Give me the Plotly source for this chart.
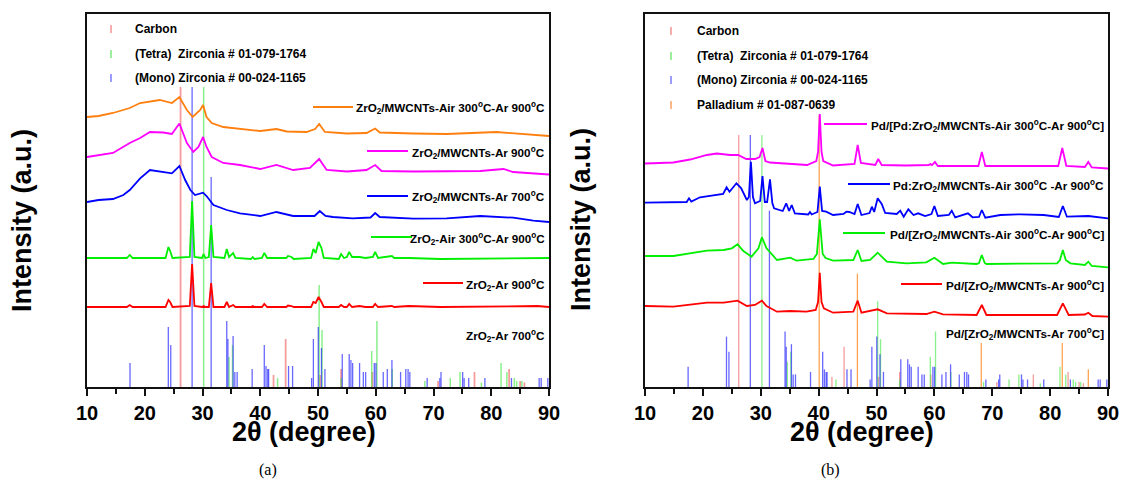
import plotly.graph_objects as go

W, H = 1121, 484

# ---------------- reference stick patterns (2theta, relative intensity) ----------------
CARBON_POS = [26.2, 42.3, 44.4, 50.35, 54.0, 59.4, 70.8, 77.1, 83.1, 85.0, 85.75]
CARBON_REL = [100, 4, 16, 4, 6, 5, 2, 5, 6, 2, 1.5]
TETRA_POS = [30.2, 34.6, 35.2, 43.0, 50.2, 50.7, 54.0, 59.3, 60.2, 62.85, 68.5, 72.9, 74.6, 78.3, 81.7, 82.7, 84.0, 84.4, 85.3]
TETRA_REL = [100, 10, 14, 3, 34, 19, 3, 12, 22, 6, 2, 3, 5, 1.5, 8, 5, 3, 2, 2]
MONO_POS = [17.45, 24.08, 24.5, 28.2, 31.5, 34.2, 34.4, 35.3, 35.6, 36.0, 38.6, 40.7, 41.0, 41.3, 41.45,
            44.9, 45.6, 48.9, 49.2, 50.05, 50.6, 51.2, 54.2, 55.4, 55.7, 56.0, 57.2, 57.85, 58.25, 59.75,
            60.04, 61.3, 62.0, 62.8, 64.3, 65.2, 65.6, 65.9, 68.9, 71.1, 71.3, 75.05, 75.3, 76.1, 78.9,
            83.5, 88.3, 88.65, 89.8]
MONO_REL = [8, 20, 14, 100, 70, 22, 16, 17, 5, 5, 6, 14, 7, 6, 6,
            7, 7, 3, 16, 20, 13, 6, 11, 11, 9, 8, 8, 5, 5, 8,
            8, 5, 6, 9, 5, 6, 6, 5, 3, 3, 5, 5, 3, 3, 3,
            3, 3, 3, 3]
PD_POS = [40.1, 46.7, 68.1, 82.1, 86.6]
PD_REL = [108, 45, 17.5, 17.5, 7]

# ---------------- panel (a) patterns (offset intensity, a.u.) ----------------
A_ORANGE_X = [10, 12, 14.5, 17.4, 19.2, 22.6, 24.7, 26.0, 27.3, 28.3, 29.6, 30.1, 30.7, 31.6, 33.6, 36.5,
              40.0, 42.8, 44.6, 48.0, 49.5, 50.2, 51.2, 55.0, 58.4, 59.9, 60.7, 66.5, 72.3, 80.9, 83.8, 90]
A_ORANGE_Y = [270, 271, 274, 279, 284, 287, 284, 290, 277, 270, 277, 282, 270, 264, 260, 258,
              256, 258, 255.5, 255, 258, 263, 255, 253.5, 254, 258.5, 254.5, 253.5, 253, 255, 253.5, 251]

A_MAGENTA_X = [10, 12, 14.5, 17.4, 19.2, 20.9, 23.2, 24.7, 26.0, 27.3, 28.4, 29.3, 30.1, 30.7, 31.6, 33.6,
               36.5, 40.0, 42.8, 45.7, 48.6, 50.2, 51.5, 55.0, 58.4, 59.9, 61.0, 66.5, 72.3, 78.1, 82.1, 83.8, 90]
A_MAGENTA_Y = [230, 232, 234, 244, 249, 255, 254.5, 253, 263.5, 244, 235, 240, 250, 240, 230, 224,
               222, 218, 222, 217, 219, 228, 217, 215.5, 217, 222, 216, 215.5, 215.5, 216, 218, 215, 212.5]

A_BLUE_X = [10, 12, 14.5, 16.3, 17.4, 18.3, 19.2, 20.9, 23.2, 24.7, 26.0, 27.0, 27.9, 28.7, 30.1, 30.7,
            31.9, 34.2, 36.5, 40.0, 42.8, 45.7, 49.4, 50.3, 51.3, 52.6, 56.0, 59.1, 59.9, 60.7, 66.5,
            72.3, 78.1, 83.8, 87.3, 90]
A_BLUE_Y = [185, 187, 188, 192, 197, 203, 208.7, 217, 215.3, 213.7, 221, 207, 197, 192, 194.3, 191,
            182, 177, 173.7, 171, 175, 171, 171, 176, 171, 170, 168.7, 169.5, 174, 170, 168.3,
            168.7, 171, 169.3, 166.3, 165]

A_ZRO2_X = [10, 16.9, 17.4, 17.9, 23.6, 24.1, 24.4, 24.8, 27.8, 28.2, 28.6, 29.9, 30.2, 30.5, 31.1, 31.5,
            31.9, 33.8, 34.2, 34.6, 35.3, 35.7, 38.4, 38.7, 39.0, 40.3, 40.7, 41.2, 44.5, 44.8, 45.4, 45.8,
            48.8, 49.2, 49.6, 50.1, 50.6, 51.0, 53.6, 54.0, 54.5, 55.0, 55.4, 55.9, 57.2, 58.2, 59.5, 59.9,
            60.4, 62.8, 63.2, 65.7, 71.2, 88, 90]
A_GREEN_Y = [129, 129, 132, 129, 129, 140, 136, 129, 130, 186, 130, 129, 133, 129, 130, 162,
             130, 129, 138, 130, 134, 129, 128, 130, 128, 129, 134, 129, 129, 131, 130, 128,
             129, 138, 134, 145, 139, 129, 128, 133, 129, 130, 135, 130, 130, 129, 130, 135,
             129, 131, 129, 129, 128, 129, 129]
A_RED_Y = [80, 80, 82, 80, 80, 87, 85, 80, 81, 123, 81, 80, 81, 80, 80, 104,
           80, 80, 85, 80, 82, 80, 80, 81, 80, 80, 83, 80, 80, 81.5, 81, 80,
           80, 85, 84, 90, 85, 80, 80, 82, 80, 80, 83, 80, 81, 80, 80, 83,
           80, 81, 80, 81, 80, 81, 80]

# ---------------- panel (b) patterns ----------------
B_MAGENTA_X = [10, 14.9, 17.8, 20.7, 22.4, 24.7, 26.1, 27.5, 29.0, 29.8, 30.3, 30.8, 31.6, 35, 38.0, 39.6,
               39.9, 40.2, 40.5, 40.8, 42.5, 46.2, 46.75, 47.3, 49.8, 50.3, 50.9, 55, 59.0, 59.3, 59.6,
               60.1, 60.6, 67.6, 68.2, 68.8, 75, 81.4, 82.1, 82.8, 86.0, 86.6, 87.2, 90]
B_MAGENTA_Y = [223.5, 224.5, 227.5, 232, 233.5, 232, 232, 228, 228, 230, 239, 226, 224.5, 223, 222, 226,
               235, 273, 235, 226, 221.5, 223, 242, 224, 222, 228, 222, 221.5, 222, 223, 222,
               225, 221, 221, 235, 221, 221, 221, 239, 221, 220, 225, 219.5, 218.5]

B_BLUE_X = [10, 14, 17.2, 17.6, 18.0, 19.5, 21.5, 23.5, 24.1, 24.6, 25.8, 26.6, 27.6, 27.95, 28.3, 28.65,
            29.0, 29.9, 30.3, 30.7, 31.1, 31.6, 32.0, 32.3, 33.8, 34.4, 34.9, 35.35, 35.9, 38.2, 38.5,
            38.8, 39.8, 40.2, 40.6, 41.3, 42.5, 44.3, 44.8, 45.3, 46.2, 46.75, 47.4, 48.8, 49.2, 49.6,
            50.2, 50.9, 51.5, 53.5, 54.1, 54.7, 55.5, 56.4, 57.2, 58.4, 59.5, 60.0, 60.6, 62.5, 63.0,
            63.6, 65.8, 66.6, 67.7, 68.2, 68.8, 71.4, 74.9, 78.9, 81.5, 82.2, 82.9, 86.6, 90]
B_BLUE_Y = [184.3, 184.3, 185, 188.7, 185.5, 189.7, 191, 193, 199.7, 195.3, 203.7, 199, 187, 190, 225.3, 190,
            183.7, 186, 211, 185, 185, 207.7, 184, 178.7, 176, 183.7, 176, 182, 173.5, 172.5, 175,
            172.5, 175, 200.3, 176, 175.3, 172, 173, 175.3, 175, 173, 183, 172, 174, 180.3, 175,
            188.7, 183, 174, 173, 176.3, 170.3, 177.7, 172, 173.7, 171, 173, 181, 171, 172, 176.3,
            169.7, 173.7, 169.7, 170, 177, 169.3, 172, 172.7, 172, 170, 181, 170.3, 171, 168.7]

B_GREEN_X = [10, 14.9, 20.7, 23.6, 25.0, 26.0, 27.0, 28.4, 29.6, 30.2, 31.0, 32.8, 35.1, 36.2, 39.1, 39.7,
             40.2, 40.7, 41.2, 42.5, 46.0, 46.75, 47.4, 48.9, 50.2, 51.8, 55.2, 58.6, 60.0, 61.5, 63.0,
             67.3, 67.7, 68.2, 68.7, 69.0, 81.2, 81.7, 82.2, 82.7, 83.5, 86.0, 86.6, 87.2, 90]
B_GREEN_Y = [131, 131, 136.3, 137, 138.7, 142.7, 136, 130.3, 138.7, 149.7, 138.7, 127, 129.3, 126.3, 128, 133,
             167.7, 133, 129, 126.3, 127, 137, 126, 127, 134.3, 125.3, 123.7, 124.7, 129.3, 123, 124.3,
             123, 124, 132, 124, 123, 123.7, 127, 137, 127, 123.7, 122, 125.3, 121, 119.7]

B_RED_X = [10, 14.9, 20.7, 23.6, 26.0, 27.6, 29.0, 30.2, 31.0, 32.8, 35.1, 37.9, 39.5, 39.9, 40.2, 40.5,
           40.9, 42.5, 46.0, 46.75, 47.4, 50.2, 51.8, 58.6, 60.0, 61.5, 67.3, 68.2, 69.0, 81.2, 82.2,
           83.2, 86.0, 86.6, 87.3, 90]
B_RED_Y = [81, 80.3, 84.3, 84.3, 86.3, 81, 82, 86.3, 81, 75.3, 76, 75.3, 77, 85, 114.3, 85,
           78.7, 74.3, 75.3, 86.3, 74.3, 77.7, 73.7, 73, 75.3, 72.7, 72, 82, 72, 72, 83.7,
           72, 72.5, 74.3, 71, 70.3]

# ---------------- labels ----------------
A_LABELS = ["ZrO<sub>2</sub>/MWCNTs-Air 300<sup>o</sup>C-Ar 900<sup>o</sup>C",
            "ZrO<sub>2</sub>/MWCNTs-Ar 900<sup>o</sup>C",
            "ZrO<sub>2</sub>/MWCNTs-Ar 700<sup>o</sup>C",
            "ZrO<sub>2</sub>-Air 300<sup>o</sup>C-Ar 900<sup>o</sup>C",
            "ZrO<sub>2</sub>-Ar 900<sup>o</sup>C",
            "ZrO<sub>2</sub>-Ar 700<sup>o</sup>C"]
B_LABELS = ["Pd/[Pd:ZrO<sub>2</sub>/MWCNTs-Air 300<sup>o</sup>C-Ar 900<sup>o</sup>C]",
            "Pd:ZrO<sub>2</sub>/MWCNTs-Air 300<sup>o</sup>C -Ar 900<sup>o</sup>C",
            "Pd/[ZrO<sub>2</sub>/MWCNTs-Air 300<sup>o</sup>C-Ar 900<sup>o</sup>C]",
            "Pd/[ZrO<sub>2</sub>/MWCNTs-Ar 900<sup>o</sup>C]",
            "Pd/[ZrO<sub>2</sub>/MWCNTs-Ar 700<sup>o</sup>C]"]
REF_LABELS_A = ["Carbon", "(Tetra)  Zirconia # 01-079-1764", "(Mono) Zirconia # 00-024-1165"]
REF_LABELS_B = REF_LABELS_A + ["Palladium # 01-087-0639"]
XTICKS = [10, 20, 30, 40, 50, 60, 70, 80, 90]
XMINOR = [15, 25, 35, 45, 55, 65, 75, 85]

FONT = "Liberation Sans, Arial, sans-serif"
SERIF = "Liberation Serif, Times New Roman, serif"
C_ORANGE, C_MAGENTA, C_BLUE, C_GREEN, C_RED = "#ff7f0e", "#ff00ff", "#0000ff", "#00ee00", "#ff0000"
C_ST_CARBON = "rgba(240,90,90,0.6)"
C_ST_TETRA = "rgba(60,230,60,0.6)"
C_ST_MONO = "rgba(40,40,255,0.7)"
C_ST_PD = "rgba(255,140,40,0.8)"


def sticks(pos, rel, scale):
    xs, ys = [], []
    for p, r in zip(pos, rel):
        xs += [p, p, None]
        ys += [0, r * scale, None]
    return xs, ys


fig = go.Figure()


def add_sticks(pos, rel, scale, color, width, xa, ya):
    xs, ys = sticks(pos, rel, scale)
    fig.add_trace(go.Scatter(x=xs, y=ys, mode="lines", line=dict(color=color, width=width),
                             xaxis=xa, yaxis=ya, showlegend=False, hoverinfo="skip"))


def add_line(x, y, color, xa, ya):
    fig.add_trace(go.Scatter(x=x, y=y, mode="lines", line=dict(color=color, width=1.8),
                             xaxis=xa, yaxis=ya, showlegend=False))


# panel a
SA = 3.0
add_sticks(CARBON_POS, CARBON_REL, SA, C_ST_CARBON, 1.8, "x", "y")
add_sticks(TETRA_POS, TETRA_REL, SA, C_ST_TETRA, 1.5, "x", "y")
add_sticks(MONO_POS, MONO_REL, SA, C_ST_MONO, 1.3, "x", "y")
add_line(A_ORANGE_X, A_ORANGE_Y, C_ORANGE, "x", "y")
add_line(A_MAGENTA_X, A_MAGENTA_Y, C_MAGENTA, "x", "y")
add_line(A_BLUE_X, A_BLUE_Y, C_BLUE, "x", "y")
add_line(A_ZRO2_X, A_GREEN_Y, C_GREEN, "x", "y")
add_line(A_ZRO2_X, A_RED_Y, C_RED, "x", "y")

# panel b
SB = 2.52
add_sticks(CARBON_POS, CARBON_REL, SB, C_ST_CARBON, 1.3, "x2", "y2")
add_sticks(TETRA_POS, TETRA_REL, SB, C_ST_TETRA, 1.3, "x2", "y2")
add_sticks(MONO_POS, MONO_REL, SB, C_ST_MONO, 1.3, "x2", "y2")
add_sticks(PD_POS, PD_REL, SB, C_ST_PD, 1.3, "x2", "y2")
add_line(B_MAGENTA_X, B_MAGENTA_Y, C_MAGENTA, "x2", "y2")
add_line(B_BLUE_X, B_BLUE_Y, C_BLUE, "x2", "y2")
add_line(B_GREEN_X, B_GREEN_Y, C_GREEN, "x2", "y2")
add_line(B_RED_X, B_RED_Y, C_RED, "x2", "y2")


def px(x):
    return x / W


def py(y):
    return 1 - y / H


def xaxis(x0, x1, anchor):
    return dict(domain=[px(x0), px(x1)], range=[10, 90], tickmode="array", tickvals=XTICKS,
                ticktext=[str(v) for v in XTICKS], anchor=anchor, ticklabeloverflow="allow",
                ticks="outside", ticklen=7, tickwidth=2, tickcolor="#111",
                showline=True, linewidth=2, linecolor="#111", mirror=True,
                showgrid=False, zeroline=False,
                tickfont=dict(family=FONT, size=20, color="#000", weight="bold"),
                minor=dict(tickvals=XMINOR, ticks="outside",
                           ticklen=5, tickwidth=2, tickcolor="#111"))


def yaxis(anchor):
    return dict(domain=[py(387), py(14)], range=[0, 373], showticklabels=False, ticks="",
                showline=True, linewidth=2, linecolor="#111", mirror=True,
                showgrid=False, zeroline=False, anchor=anchor)


annotations = []
shapes = []


def text(x, y, s, size=12, anchor="left", weight="bold", family=FONT, angle=0):
    annotations.append(dict(x=px(x), y=py(y), xref="paper", yref="paper", text=s, showarrow=False,
                            xanchor=anchor, yanchor="middle", textangle=angle,
                            font=dict(family=family, size=size, color="#000", weight=weight)))


def seg(x0, x1, y0, y1, color, width):
    shapes.append(dict(type="line", xref="paper", yref="paper", x0=px(x0), x1=px(x1),
                       y0=py(y0), y1=py(y1), line=dict(color=color, width=width)))


# reference legends
leg_cols = ["rgba(240,120,120,0.8)", "rgba(90,230,90,0.8)", "rgba(90,90,255,0.8)", "rgba(255,150,80,0.9)"]
for i, (lab, yy) in enumerate(zip(REF_LABELS_A, [29, 54, 78])):
    seg(111, 111, yy - 4, yy + 4, leg_cols[i], 1.5)
    text(133, yy, lab, size=12)
for i, (lab, yy) in enumerate(zip(REF_LABELS_B, [31, 56, 80, 105])):
    seg(671, 671, yy - 4, yy + 4, leg_cols[i], 1.5)
    text(695, yy, lab, size=12)

# trace labels panel a
a_cols = [C_ORANGE, C_MAGENTA, C_BLUE, C_GREEN, C_RED, None]
a_txt_y = [108, 153, 197, 239, 285, 336]
a_line = [(313, 353, 107), (367, 408, 151), (367, 408, 196), (371, 412, 237), (423, 463, 283), None]
for lab, c, ty, ln in zip(A_LABELS, a_cols, a_txt_y, a_line):
    text(547, ty, lab, size=11.7, anchor="right")
    if ln:
        seg(ln[0], ln[1], ln[2], ln[2], c, 2)

b_cols = [C_MAGENTA, C_BLUE, C_GREEN, C_RED, None]
b_txt_y = [126, 186, 235, 286, 334]
b_line = [(824, 867, 124), (848, 890, 184), (843, 885, 233), (901, 942, 284), None]
for lab, c, ty, ln in zip(B_LABELS, b_cols, b_txt_y, b_line):
    text(1106, ty, lab, size=11.7, anchor="right")
    if ln:
        seg(ln[0], ln[1], ln[2], ln[2], c, 2)

# axis titles
text(304, 432, "2θ (degree)", size=27, anchor="center")
text(862, 432, "2θ (degree)", size=27, anchor="center")
text(22, 221, "Intensity (a.u.)", size=27, anchor="center", angle=-90)
text(581, 220, "Intensity (a.u.)", size=27, anchor="center", angle=-90)
text(268, 470, "(a)", size=16, anchor="center", weight="normal", family=SERIF)
text(830, 470, "(b)", size=16, anchor="center", weight="normal", family=SERIF)

fig.update_layout(
    width=W, height=H, margin=dict(l=0, r=0, t=0, b=0, autoexpand=False),
    paper_bgcolor="white", plot_bgcolor="white",
    xaxis=xaxis(87, 549, "y"), yaxis=yaxis("x"),
    xaxis2=xaxis(645, 1108, "y2"), yaxis2=yaxis("x2"),
    annotations=annotations, shapes=shapes, showlegend=False,
)

# the page's default body margin would push the fixed-size figure out of the window
fig.write_html("out.html", config={"displayModeBar": False},
               post_script="document.body.style.margin='0px';document.body.style.overflow='hidden';")
